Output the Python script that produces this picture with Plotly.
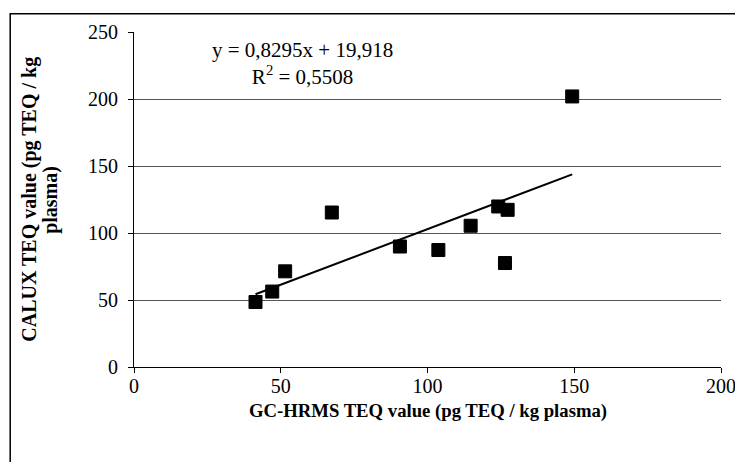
import numpy as np
import plotly.graph_objects as go

# GC-HRMS TEQ (x) vs CALUX TEQ (y), pg TEQ / kg plasma
gc_hrms = [41.4, 47.1, 51.5, 67.4, 90.6, 103.7, 114.7, 124.1, 127.3, 126.4, 149.3]
calux = [48.5, 56.3, 71.4, 115.3, 89.9, 87.3, 105.4, 119.8, 117.3, 77.6, 201.9]

slope = 0.8295
intercept = 19.918
r_squared = "0,5508"

x_ticks = [0, 50, 100, 150, 200]
y_ticks = [0, 50, 100, 150, 200, 250]

FONT = "Liberation Serif"

fig = go.Figure()

xs = np.array([min(gc_hrms), max(gc_hrms)])
fig.add_trace(go.Scatter(
    x=xs, y=slope * xs + intercept, mode="lines",
    line=dict(color="black", width=2), showlegend=False, hoverinfo="skip"))

fig.add_trace(go.Scatter(
    x=gc_hrms, y=calux, mode="markers",
    marker=dict(symbol="square", size=13, color="black",
                line=dict(color="black", width=1)),
    showlegend=False))

fig.add_annotation(
    x=0.287, y=0.905, xref="paper", yref="paper",
    xanchor="center", yanchor="middle",
    text="y = 0,8295x + 19,918<br>R<sup>2</sup> = " + r_squared,
    showarrow=False, align="center",
    font=dict(family=FONT, size=21, color="black"))

# axis titles
fig.add_annotation(
    x=-0.1785, y=0.5, xref="paper", yref="paper",
    xanchor="center", yanchor="middle", textangle=-90,
    text="<b>CALUX TEQ value (pg TEQ / kg</b>",
    showarrow=False, align="center",
    font=dict(family=FONT, size=20, color="black"))
fig.add_annotation(
    x=-0.1425, y=0.5, xref="paper", yref="paper",
    xanchor="center", yanchor="middle", textangle=-90,
    text="<b>plasma)</b>",
    showarrow=False, align="center",
    font=dict(family=FONT, size=20, color="black"))
fig.add_annotation(
    x=0.5, y=-0.130, xref="paper", yref="paper",
    xanchor="center", yanchor="middle",
    text="<b>GC-HRMS TEQ value (pg TEQ / kg plasma)</b>",
    showarrow=False,
    font=dict(family=FONT, size=18.7, color="black"))

# outer frame (only top and left edges visible in the window)
fig.add_shape(type="rect", xref="paper", yref="paper", layer="below",
              x0=-0.2109, x1=1.2, y0=-0.4, y1=1.0546,
              line=dict(color="black", width=1.5), fillcolor="rgba(0,0,0,0)")

fig.update_xaxes(
    range=[0, 200], tickvals=x_ticks, ticks="outside", ticklen=5,
    tickcolor="black", showline=True, linecolor="black", linewidth=1,
    showgrid=False, zeroline=False, automargin=False,
    ticklabelstandoff=-4,
    tickfont=dict(family=FONT, size=20, color="black"))

fig.update_yaxes(
    range=[0, 250], tickvals=y_ticks, ticks="outside", ticklen=5,
    tickcolor="black", showline=True, linecolor="black", linewidth=1,
    showgrid=True, gridcolor="#555555", gridwidth=1, zeroline=False,
    automargin=False, ticklabelstandoff=6,
    tickfont=dict(family=FONT, size=20, color="black"))

fig.update_layout(
    width=735, height=454,
    margin=dict(l=125.5, r=21.5, t=24.3, b=94.7, autoexpand=False),
    plot_bgcolor="white", paper_bgcolor="white")

fig.write_html("out.html")
